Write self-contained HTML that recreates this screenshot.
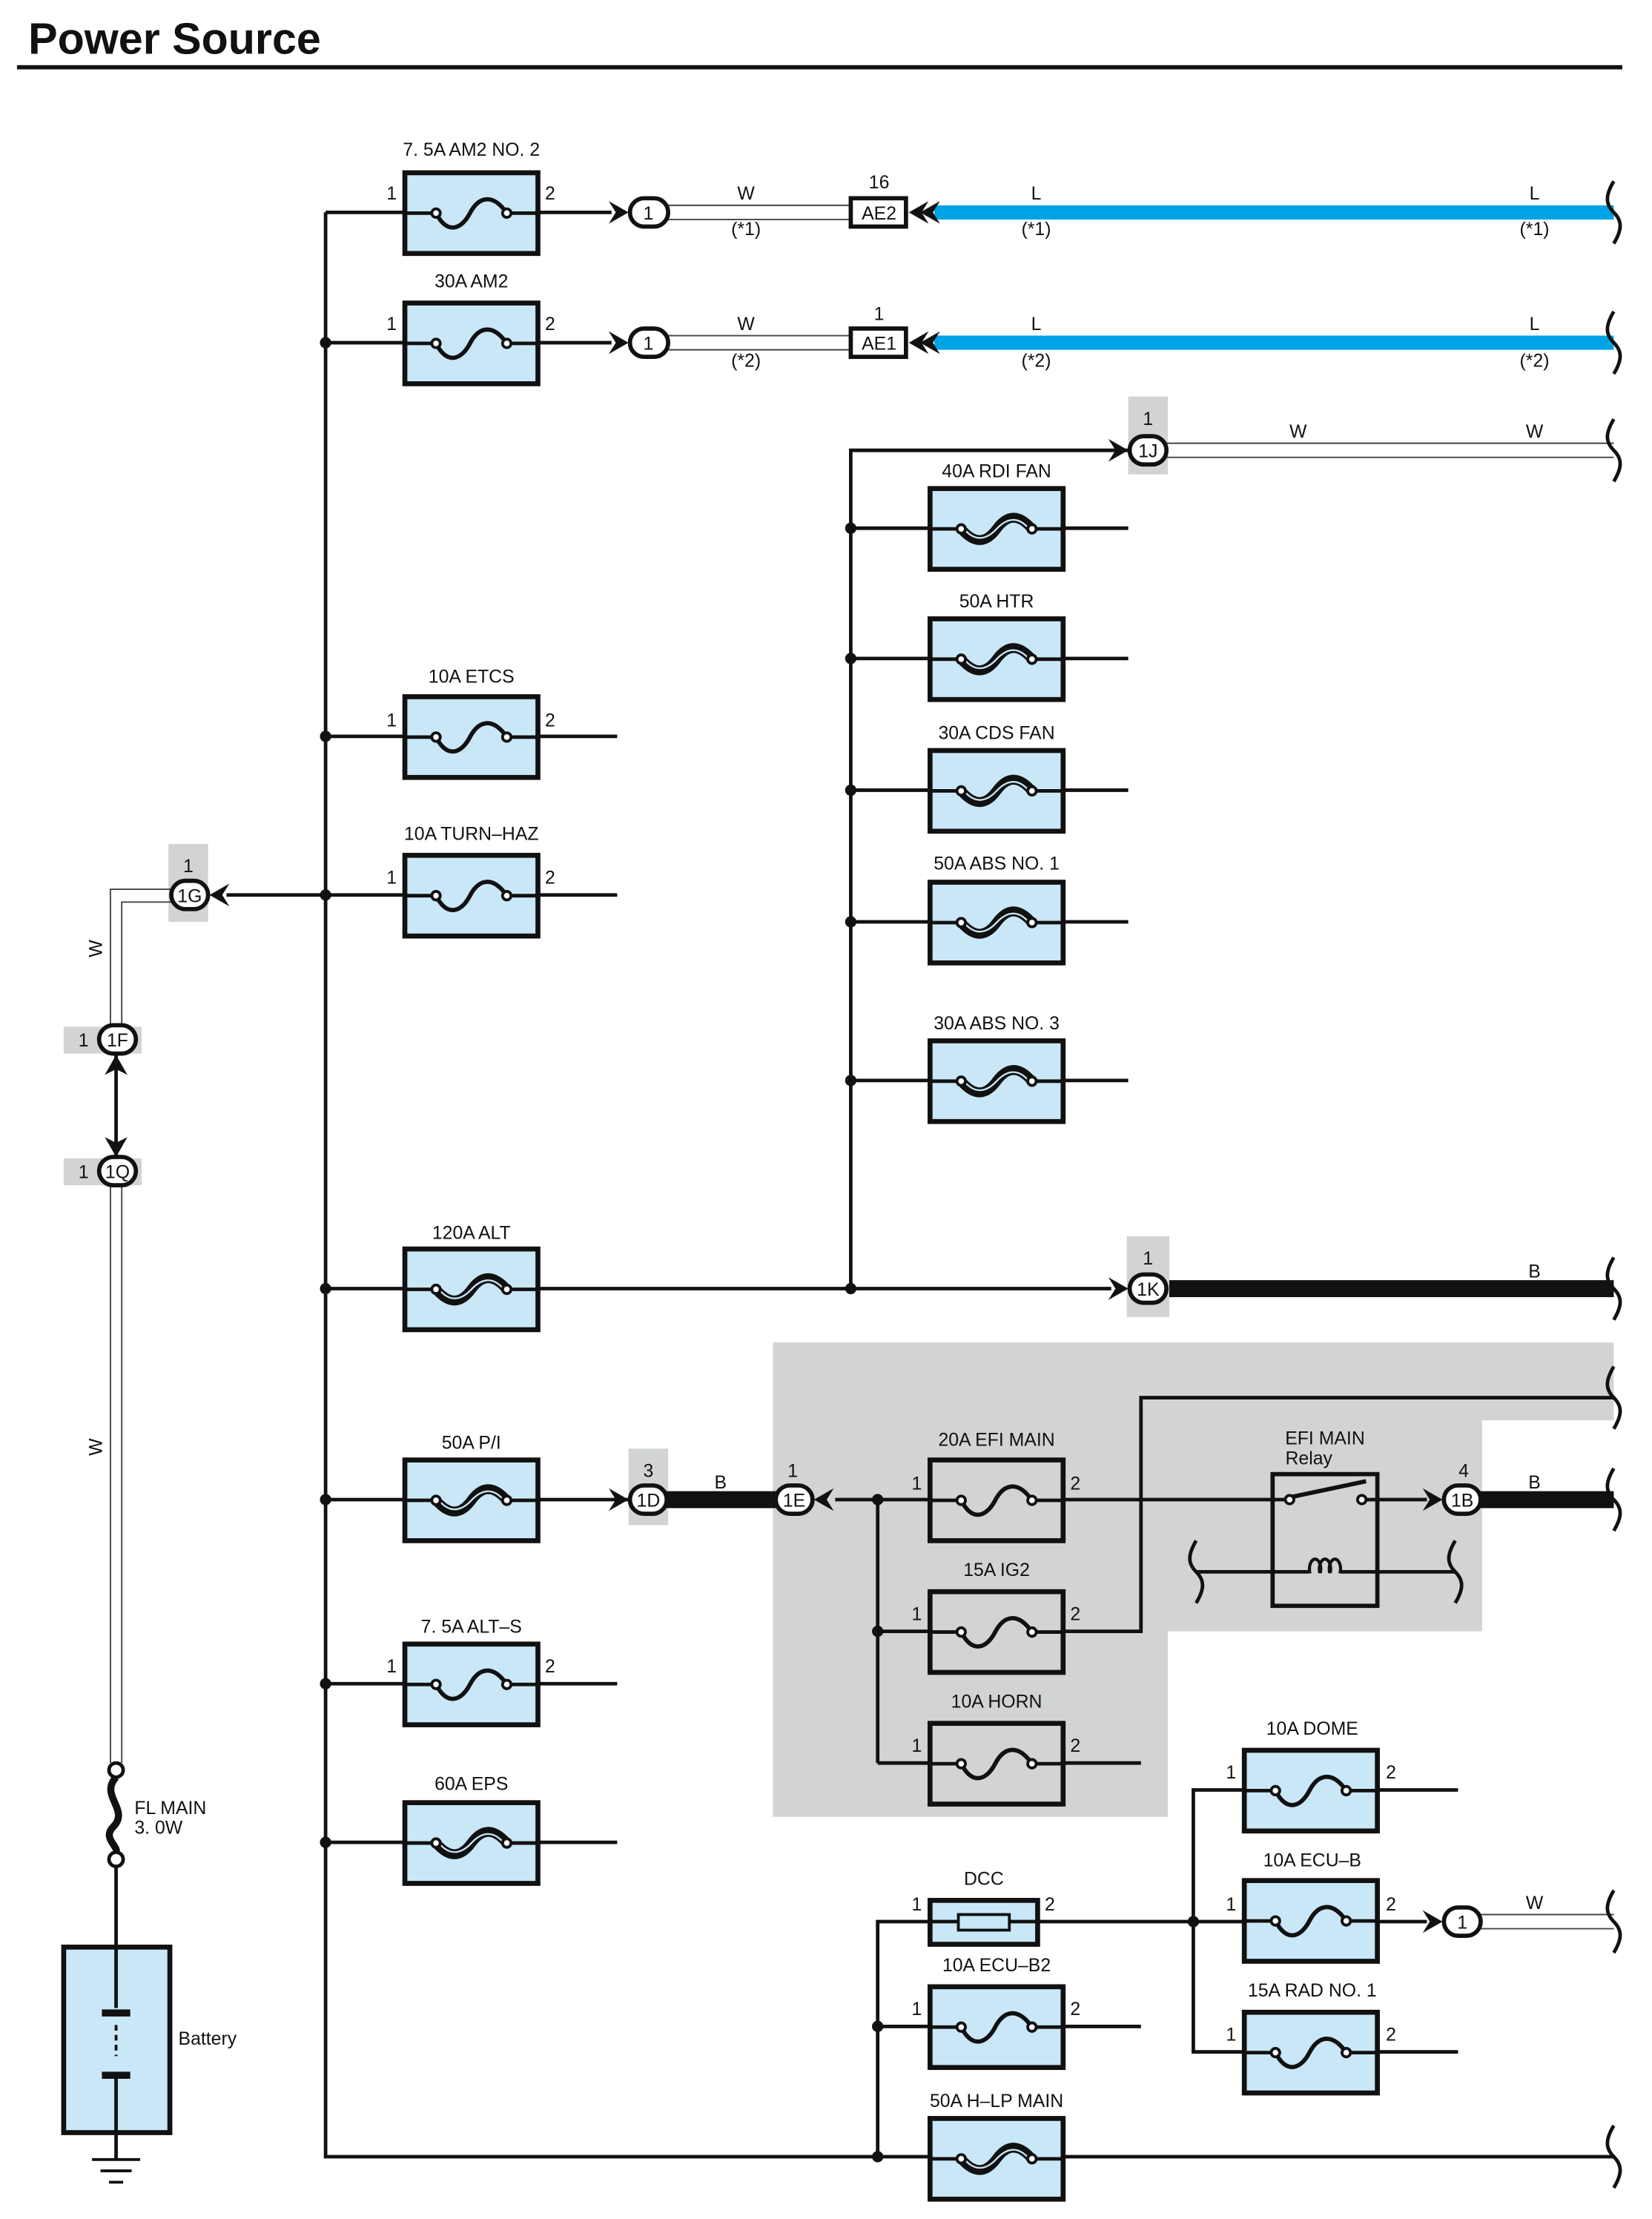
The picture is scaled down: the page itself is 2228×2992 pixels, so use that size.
<!DOCTYPE html>
<html><head><meta charset="utf-8"><style>
html,body{margin:0;padding:0;background:#fff}
svg{display:block}
text{font-family:"Liberation Sans",sans-serif;fill:#111}
</style></head><body>
<svg width="2228" height="2992" viewBox="0 0 1167 1567" preserveAspectRatio="none" xmlns="http://www.w3.org/2000/svg">
<defs>
<g id="fz">
<rect x="0" y="0" width="94" height="57" fill="#c9e7f7" stroke="#111" stroke-width="3.5"/>
<line x1="0" y1="28.5" x2="19" y2="28.5" stroke="#111" stroke-width="2.5"/>
<line x1="75" y1="28.5" x2="94" y2="28.5" stroke="#111" stroke-width="2.5"/>
<path d="M22,28.5 C30,44 40,40 46,28.5 S62,14 72,28.5" fill="none" stroke="#111" stroke-width="3"/>
<circle cx="22" cy="28.5" r="3" fill="#fff" stroke="#111" stroke-width="2"/>
<circle cx="72" cy="28.5" r="3" fill="#fff" stroke="#111" stroke-width="2"/>
</g>
<g id="fg">
<rect x="0" y="0" width="94" height="57" fill="#d1d3d4" stroke="#111" stroke-width="3.5"/>
<line x1="0" y1="28.5" x2="19" y2="28.5" stroke="#111" stroke-width="2.5"/>
<line x1="75" y1="28.5" x2="94" y2="28.5" stroke="#111" stroke-width="2.5"/>
<path d="M22,28.5 C30,44 40,40 46,28.5 S62,14 72,28.5" fill="none" stroke="#111" stroke-width="3"/>
<circle cx="22" cy="28.5" r="3" fill="#fff" stroke="#111" stroke-width="2"/>
<circle cx="72" cy="28.5" r="3" fill="#fff" stroke="#111" stroke-width="2"/>
</g>
<g id="fh">
<rect x="0" y="0" width="94" height="57" fill="#c9e7f7" stroke="#111" stroke-width="3.5"/>
<line x1="0" y1="28.5" x2="19" y2="28.5" stroke="#111" stroke-width="2.5"/>
<line x1="75" y1="28.5" x2="94" y2="28.5" stroke="#111" stroke-width="2.5"/>
<path d="M22,28.5 C32,40 40,38 47,28.5 S62,17 72,28.5" fill="none" stroke="#111" stroke-width="7"/>
<path d="M24,28.5 C32,38 40,36 47,28.5 S62,19 70,28.5" fill="none" stroke="#c9e7f7" stroke-width="1.2"/>
<circle cx="22" cy="28.5" r="3" fill="#fff" stroke="#111" stroke-width="2"/>
<circle cx="72" cy="28.5" r="3" fill="#fff" stroke="#111" stroke-width="2"/>
</g>
<path id="arR" d="M-14,-8 L0,0 L-14,8 L-9,0 Z" fill="#111"/>
<path id="arL" d="M14,-8 L0,0 L14,8 L9,0 Z" fill="#111"/>
<path id="wv" d="M0,-22 C-6,-12 -6,-6 0,0 C6,6 6,12 0,22" fill="none" stroke="#111" stroke-width="2.5"/>
</defs>

<text x="20" y="38" font-size="31" font-weight="bold">Power Source</text>
<rect x="12" y="46" width="1134" height="3" fill="#111"/>

<polygon points="546,948 1140,948 1140,1003 1047,1003 1047,1152 825,1152 825,1283 546,1283" fill="#d1d3d4"/>
<rect x="119" y="596" width="28" height="55" fill="#d1d3d4"/>
<rect x="45" y="725" width="55" height="19" fill="#d1d3d4"/>
<rect x="45" y="818" width="55" height="19" fill="#d1d3d4"/>
<rect x="797" y="280" width="28" height="55" fill="#d1d3d4"/>
<rect x="796" y="873" width="30" height="57" fill="#d1d3d4"/>
<rect x="444" y="1023" width="28" height="54" fill="#d1d3d4"/>

<g stroke="#111" stroke-width="2.5" fill="none">
<polyline points="230,150 230,1523 1140,1523"/>
<line x1="230" y1="150" x2="432" y2="150"/>
<line x1="230" y1="242" x2="432" y2="242"/>
<line x1="230" y1="520" x2="436" y2="520"/>
<line x1="160" y1="632" x2="436" y2="632"/>
<line x1="230" y1="910" x2="785" y2="910"/>
<line x1="230" y1="1059" x2="444" y2="1059"/>
<line x1="230" y1="1189" x2="436" y2="1189"/>
<line x1="230" y1="1301" x2="436" y2="1301"/>
<polyline points="601,910 601,318 797,318"/>
<line x1="601" y1="373" x2="797" y2="373"/>
<line x1="601" y1="465" x2="797" y2="465"/>
<line x1="601" y1="558" x2="797" y2="558"/>
<line x1="601" y1="651" x2="797" y2="651"/>
<line x1="601" y1="763" x2="797" y2="763"/>
<line x1="590" y1="1059" x2="1008" y2="1059"/>
<line x1="620" y1="1059" x2="620" y2="1245"/>
<line x1="620" y1="1152" x2="657" y2="1152"/>
<line x1="620" y1="1245" x2="806" y2="1245"/>
<polyline points="751,1152 806,1152 806,987 1140,987"/>
<line x1="845" y1="1110" x2="1028" y2="1110"/>
<polyline points="620,1523 620,1357 843,1357"/>
<line x1="620" y1="1431" x2="806" y2="1431"/>
<polyline points="1030,1264 843,1264 843,1449 1030,1449"/>
<line x1="843" y1="1357" x2="1008" y2="1357"/>
<line x1="82" y1="745" x2="82" y2="817"/>
<line x1="82" y1="1318" x2="82" y2="1375"/>
<line x1="82" y1="1506" x2="82" y2="1525"/>
</g>

<g stroke="#444" stroke-width="1" fill="none">
<line x1="472" y1="145" x2="601" y2="145"/><line x1="472" y1="155" x2="601" y2="155"/>
<line x1="472" y1="237" x2="601" y2="237"/><line x1="472" y1="247" x2="601" y2="247"/>
<line x1="824" y1="313" x2="1140" y2="313"/><line x1="824" y1="323" x2="1140" y2="323"/>
<line x1="1046" y1="1352" x2="1140" y2="1352"/><line x1="1046" y1="1362" x2="1140" y2="1362"/>
<polyline points="121,628 78,628 78,725"/><polyline points="121,637 86,637 86,725"/>
<line x1="78" y1="837" x2="78" y2="1245"/><line x1="86" y1="837" x2="86" y2="1245"/>
</g>
<line x1="660" y1="150" x2="1140" y2="150" stroke="#00a3e6" stroke-width="10"/>
<line x1="660" y1="242" x2="1140" y2="242" stroke="#00a3e6" stroke-width="10"/>
<line x1="826" y1="910" x2="1140" y2="910" stroke="#111" stroke-width="12"/>
<line x1="471" y1="1059" x2="548" y2="1059" stroke="#111" stroke-width="12"/>
<line x1="1046" y1="1059" x2="1140" y2="1059" stroke="#111" stroke-width="12"/>

<use href="#wv" x="1140" y="150"/><use href="#wv" x="1140" y="242"/>
<use href="#wv" x="1140" y="318"/><use href="#wv" x="1140" y="910"/>
<use href="#wv" x="1140" y="987"/><use href="#wv" x="1140" y="1059"/>
<use href="#wv" x="1140" y="1357"/><use href="#wv" x="1140" y="1523"/>
<use href="#wv" x="845" y="1110"/><use href="#wv" x="1028" y="1110"/>

<g fill="#111">
<circle cx="230" cy="242" r="4"/><circle cx="230" cy="520" r="4"/><circle cx="230" cy="632" r="4"/>
<circle cx="230" cy="910" r="4"/><circle cx="230" cy="1059" r="4"/><circle cx="230" cy="1189" r="4"/>
<circle cx="230" cy="1301" r="4"/>
<circle cx="601" cy="373" r="4"/><circle cx="601" cy="465" r="4"/><circle cx="601" cy="558" r="4"/>
<circle cx="601" cy="651" r="4"/><circle cx="601" cy="763" r="4"/><circle cx="601" cy="910" r="4"/>
<circle cx="620" cy="1059" r="4"/><circle cx="620" cy="1152" r="4"/>
<circle cx="620" cy="1431" r="4"/><circle cx="620" cy="1523" r="4"/><circle cx="843" cy="1357" r="4"/>
</g>

<use href="#fz" x="286" y="122"/><use href="#fz" x="286" y="214"/>
<use href="#fz" x="286" y="492"/><use href="#fz" x="286" y="604"/>
<use href="#fh" x="286" y="882"/><use href="#fh" x="286" y="1031"/>
<use href="#fz" x="286" y="1161"/><use href="#fh" x="286" y="1273"/>
<use href="#fh" x="657" y="345"/><use href="#fh" x="657" y="437"/><use href="#fh" x="657" y="530"/>
<use href="#fh" x="657" y="623"/><use href="#fh" x="657" y="735"/>
<use href="#fg" x="657" y="1031"/><use href="#fg" x="657" y="1124"/><use href="#fg" x="657" y="1217"/>
<use href="#fz" x="879" y="1236"/><use href="#fz" x="879" y="1328"/><use href="#fz" x="879" y="1421"/>
<use href="#fz" x="657" y="1403"/><use href="#fh" x="657" y="1496"/>
<rect x="657" y="1342" width="76" height="31" fill="#c9e7f7" stroke="#111" stroke-width="3.5"/>
<rect x="677" y="1352" width="36" height="11" fill="#c9e7f7" stroke="#111" stroke-width="2"/>
<line x1="657" y1="1357" x2="677" y2="1357" stroke="#111" stroke-width="2.5"/>
<line x1="713" y1="1357" x2="733" y2="1357" stroke="#111" stroke-width="2.5"/>

<rect x="899" y="1041" width="74" height="93" fill="#d1d3d4" stroke="#111" stroke-width="3"/>
<line x1="899" y1="1059" x2="908" y2="1059" stroke="#111" stroke-width="2.5"/>
<line x1="965" y1="1059" x2="973" y2="1059" stroke="#111" stroke-width="2.5"/>
<line x1="913" y1="1057" x2="965" y2="1046" stroke="#111" stroke-width="3"/>
<circle cx="911" cy="1059" r="3" fill="#fff" stroke="#111" stroke-width="2"/>
<circle cx="962" cy="1059" r="3" fill="#fff" stroke="#111" stroke-width="2"/>
<rect x="923" y="1100" width="26" height="18" fill="#d1d3d4"/>
<g fill="none" stroke="#111" stroke-width="2.2">
<ellipse cx="929" cy="1108" rx="4" ry="7"/><ellipse cx="936" cy="1108" rx="4" ry="7"/><ellipse cx="943" cy="1108" rx="4" ry="7"/>
</g>
<rect x="923" y="1111" width="26" height="8" fill="#d1d3d4"/>
<line x1="899" y1="1110" x2="925" y2="1110" stroke="#111" stroke-width="2.5"/>
<line x1="947" y1="1110" x2="973" y2="1110" stroke="#111" stroke-width="2.5"/>

<rect x="45" y="1375" width="75" height="131" fill="#c9e7f7" stroke="#111" stroke-width="3.5"/>
<line x1="82" y1="1375" x2="82" y2="1418" stroke="#111" stroke-width="2.5"/>
<rect x="72" y="1419" width="20" height="5" fill="#111"/>
<line x1="82" y1="1430" x2="82" y2="1452" stroke="#111" stroke-width="2" stroke-dasharray="4,3"/>
<rect x="72" y="1463" width="20" height="5" fill="#111"/>
<line x1="82" y1="1468" x2="82" y2="1506" stroke="#111" stroke-width="2.5"/>
<g stroke="#111" stroke-width="2"><line x1="65" y1="1525" x2="99" y2="1525"/><line x1="71" y1="1533" x2="93" y2="1533"/><line x1="77" y1="1541" x2="87" y2="1541"/></g>
<circle cx="82" cy="1250" r="5" fill="#fff" stroke="#111" stroke-width="2.5"/>
<circle cx="82" cy="1313" r="5" fill="#fff" stroke="#111" stroke-width="2.5"/>
<path d="M82,1255 C70,1268 92,1278 80,1290 C72,1298 84,1304 82,1308" fill="none" stroke="#111" stroke-width="5"/>

<g stroke="#111" stroke-width="3">
<rect x="445" y="140" width="27" height="20" rx="10" fill="#fff"/>
<rect x="445" y="232" width="27" height="20" rx="10" fill="#fff"/>
<rect x="601" y="140" width="39" height="20" fill="#fff"/>
<rect x="601" y="232" width="39" height="20" fill="#fff"/>
<rect x="798" y="308" width="26" height="20" rx="10" fill="#fff"/>
<rect x="798" y="900" width="26" height="20" rx="10" fill="#fff"/>
<rect x="121" y="622" width="26" height="20" rx="10" fill="#fff"/>
<rect x="70" y="724" width="26" height="20" rx="10" fill="#fff"/>
<rect x="70" y="817" width="26" height="20" rx="10" fill="#fff"/>
<rect x="445" y="1049" width="26" height="20" rx="10" fill="#fff"/>
<rect x="548" y="1049" width="26" height="20" rx="10" fill="#fff"/>
<rect x="1020" y="1049" width="26" height="20" rx="10" fill="#fff"/>
<rect x="1020" y="1347" width="26" height="20" rx="10" fill="#fff"/>
</g>
<use href="#arR" x="444" y="150"/><use href="#arR" x="444" y="242"/>
<use href="#arR" x="797" y="318"/><use href="#arR" x="797" y="910"/>
<use href="#arR" x="444" y="1059"/><use href="#arR" x="1019" y="1059"/><use href="#arR" x="1019" y="1357"/>
<use href="#arL" x="148" y="632"/><use href="#arL" x="575" y="1059"/>
<use href="#arL" x="642" y="150"/><use href="#arL" x="650" y="150"/>
<use href="#arL" x="642" y="242"/><use href="#arL" x="650" y="242"/>
<path d="M74,759 L82,745 L90,759 L82,755 Z" fill="#111"/>
<path d="M74,803 L82,817 L90,803 L82,807 Z" fill="#111"/>

<g font-size="13" text-anchor="middle">
<text x="458" y="155">1</text><text x="458" y="247">1</text>
<text x="621" y="155">AE2</text><text x="621" y="247">AE1</text>
<text x="811" y="323">1J</text><text x="811" y="915">1K</text>
<text x="134" y="637">1G</text><text x="83" y="739">1F</text><text x="83" y="832">1Q</text>
<text x="458" y="1064">1D</text><text x="561" y="1064">1E</text><text x="1033" y="1064">1B</text>
<text x="1033" y="1362">1</text>
<text x="621" y="133">16</text><text x="621" y="226">1</text>
<text x="811" y="300">1</text><text x="811" y="893">1</text><text x="133" y="616">1</text>
<text x="458" y="1043">3</text><text x="560" y="1043">1</text><text x="1034" y="1043">4</text>
<text x="59" y="739">1</text><text x="59" y="832">1</text>
<text x="527" y="141">W</text><text x="527" y="166">(*1)</text>
<text x="527" y="233">W</text><text x="527" y="259">(*2)</text>
<text x="732" y="141">L</text><text x="732" y="166">(*1)</text>
<text x="1084" y="141">L</text><text x="1084" y="166">(*1)</text>
<text x="732" y="233">L</text><text x="732" y="259">(*2)</text>
<text x="1084" y="233">L</text><text x="1084" y="259">(*2)</text>
<text x="917" y="309">W</text><text x="1084" y="309">W</text>
<text x="1084" y="902">B</text><text x="509" y="1051">B</text><text x="1084" y="1051">B</text>
<text x="1084" y="1348">W</text>
<text x="333" y="110">7. 5A AM2 NO. 2</text>
<text x="333" y="203">30A AM2</text>
<text x="333" y="482">10A ETCS</text>
<text x="333" y="593">10A TURN–HAZ</text>
<text x="333" y="875">120A ALT</text>
<text x="333" y="1023">50A P/I</text>
<text x="333" y="1153">7. 5A ALT–S</text>
<text x="333" y="1264">60A EPS</text>
<text x="704" y="337">40A RDI FAN</text>
<text x="704" y="429">50A HTR</text>
<text x="704" y="522">30A CDS FAN</text>
<text x="704" y="614">50A ABS NO. 1</text>
<text x="704" y="727">30A ABS NO. 3</text>
<text x="704" y="1021">20A EFI MAIN</text>
<text x="704" y="1113">15A IG2</text>
<text x="704" y="1206">10A HORN</text>
<text x="695" y="1331">DCC</text>
<text x="704" y="1392">10A ECU–B2</text>
<text x="704" y="1488">50A H–LP MAIN</text>
<text x="927" y="1225">10A DOME</text>
<text x="927" y="1318">10A ECU–B</text>
<text x="927" y="1410">15A RAD NO. 1</text>
<text x="936" y="1020">EFI MAIN</text>
</g>
<g font-size="13">
<text x="908" y="1034">Relay</text>
<text x="95" y="1281">FL MAIN</text>
<text x="95" y="1295">3. 0W</text>
<text x="126" y="1444">Battery</text>
<text x="273" y="141">1</text><text x="385" y="141">2</text>
<text x="273" y="233">1</text><text x="385" y="233">2</text>
<text x="273" y="513">1</text><text x="385" y="513">2</text>
<text x="273" y="624">1</text><text x="385" y="624">2</text>
<text x="273" y="1181">1</text><text x="385" y="1181">2</text>
<text x="644" y="1052">1</text><text x="756" y="1052">2</text>
<text x="644" y="1144">1</text><text x="756" y="1144">2</text>
<text x="644" y="1237">1</text><text x="756" y="1237">2</text>
<text x="644" y="1349">1</text><text x="738" y="1349">2</text>
<text x="644" y="1423">1</text><text x="756" y="1423">2</text>
<text x="866" y="1256">1</text><text x="979" y="1256">2</text>
<text x="866" y="1349">1</text><text x="979" y="1349">2</text>
<text x="866" y="1441">1</text><text x="979" y="1441">2</text>
<text transform="translate(72,676) rotate(-90)">W</text>
<text transform="translate(72,1028) rotate(-90)">W</text>
</g>
</svg>
</body></html>
